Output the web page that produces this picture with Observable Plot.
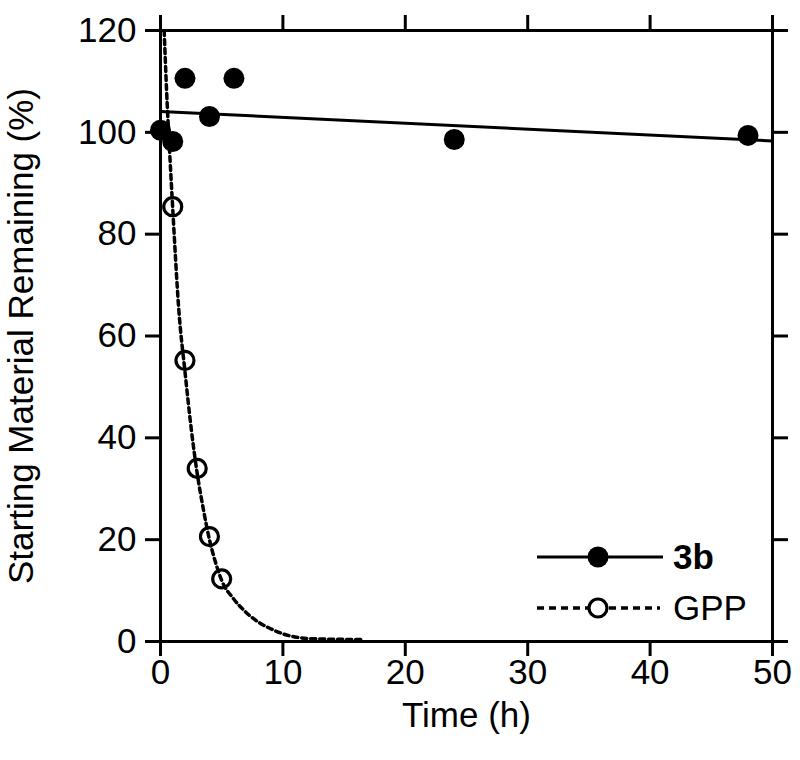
<!DOCTYPE html>
<html><head><meta charset="utf-8">
<script src="https://cdn.jsdelivr.net/npm/d3@7"></script>
<script src="https://cdn.jsdelivr.net/npm/@observablehq/plot@0.6"></script>
<style>
body{margin:0;background:#fff;font-family:"Liberation Sans",Arial,sans-serif}
#wrap{position:relative;width:800px;height:760px}
#legend{position:absolute;left:0;top:0;pointer-events:none}
</style></head><body><div id="wrap"></div>
<script>
// Measured data: compound 3b (filled) and GPP (open)
const time3b = [0, 1, 2, 4, 6, 24, 48];
const remaining3b = [100.4, 98.2, 110.6, 103.1, 110.6, 98.6, 99.4];
const timeGPP = [1, 2, 3, 4, 5];
const remainingGPP = [85.4, 55.2, 34.0, 20.6, 12.3];
// Fitted lines
const fitTime3b = [0, 50];
const fitRemaining3b = [104.1, 98.3];
const fitTimeGPP = [0.3, 0.5, 0.75, 1, 1.5, 2, 2.5, 3, 3.5, 4, 4.5, 5, 6, 7, 8, 9, 10, 11, 12, 14, 16.6];
const fitRemainingGPP = [120, 108, 96, 85, 65, 53, 42, 33, 26, 20, 15.5, 12, 8.3, 5.7, 3.8, 2.5, 1.5, 0.9, 0.6, 0.45, 0.4];
const xTicks = [0, 10, 20, 30, 40, 50];
const yTicks = [0, 20, 40, 60, 80, 100, 120];
const seriesNames = ["3b", "GPP"];

const pts3b = time3b.map((t, i) => ({t, v: remaining3b[i]}));
const ptsGPP = timeGPP.map((t, i) => ({t, v: remainingGPP[i]}));
const line3b = fitTime3b.map((t, i) => ({t, v: fitRemaining3b[i]}));
const lineGPP = fitTimeGPP.map((t, i) => ({t, v: fitRemainingGPP[i]}));

const font = "'Liberation Sans', Arial, Helvetica, sans-serif";
const chart = Plot.plot({
  width: 800, height: 760,
  marginLeft: 160, marginRight: 28, marginTop: 30, marginBottom: 119,
  style: {fontFamily: font, fontSize: "35px", color: "black", background: "white", overflow: "visible"},
  x: {domain: [0, 50]},
  y: {domain: [0, 120]},
  marks: [
    Plot.line(lineGPP, {x: "t", y: "v", stroke: "black", strokeWidth: 3.5, strokeDasharray: "5,4", curve: "monotone-x", clip: true}),
    Plot.line(line3b, {x: "t", y: "v", stroke: "black", strokeWidth: 3}),
    Plot.frame({stroke: "black", strokeWidth: 3}),
    Plot.axisX({ticks: xTicks, anchor: "bottom", tickSize: 15, tickPadding: 3, strokeWidth: 3, label: "Time (h)", labelAnchor: "center", labelArrow: "none", labelOffset: 85}),
    Plot.axisX({ticks: xTicks, anchor: "top", tickSize: 16, strokeWidth: 3, tickFormat: () => "", label: null}),
    Plot.axisY({ticks: yTicks, anchor: "left", tickSize: 15, tickPadding: 9, strokeWidth: 3, label: "Starting Material Remaining (%)", labelAnchor: "center", labelArrow: "none", labelOffset: 152}),
    Plot.axisY({ticks: yTicks, anchor: "right", tickSize: 15, strokeWidth: 3, tickFormat: () => "", label: null}),
    Plot.dot(ptsGPP, {x: "t", y: "v", r: 9, fill: "none", stroke: "black", strokeWidth: 3.2}),
    Plot.dot(pts3b, {x: "t", y: "v", r: 10.5, fill: "black"})
  ]
});
const wrap = document.getElementById("wrap");
wrap.appendChild(chart);

// Legend overlay
const ns = "http://www.w3.org/2000/svg";
const leg = document.createElementNS(ns, "svg");
leg.setAttribute("id", "legend");
leg.setAttribute("width", 800);
leg.setAttribute("height", 760);
function el(tag, attrs, text) {
  const e = document.createElementNS(ns, tag);
  for (const k in attrs) e.setAttribute(k, attrs[k]);
  if (text) e.textContent = text;
  leg.appendChild(e);
  return e;
}
el("line", {x1: 537, x2: 663, y1: 557, y2: 557, stroke: "black", "stroke-width": 3});
el("circle", {cx: 598, cy: 557, r: 10.5, fill: "black"});
el("text", {x: 673, y: 569, "font-family": font, "font-size": 35, "font-weight": "bold"}, seriesNames[0]);
el("line", {x1: 537, x2: 660, y1: 608, y2: 608, stroke: "black", "stroke-width": 3.5, "stroke-dasharray": "7,5"});
el("circle", {cx: 598, cy: 608, r: 9, fill: "white", stroke: "black", "stroke-width": 3.2});
el("text", {x: 673, y: 620, "font-family": font, "font-size": 35}, seriesNames[1]);
wrap.appendChild(leg);
</script></body></html>
